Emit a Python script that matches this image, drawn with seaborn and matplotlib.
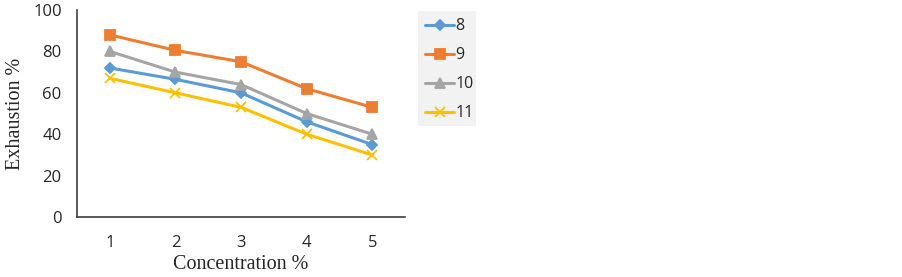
import matplotlib
matplotlib.use("Agg")
import matplotlib.pyplot as plt
import matplotlib.patches as mpatches
import seaborn as sns
import pandas as pd

concentration = [1, 2, 3, 4, 5]
series_names = ["8", "9", "10", "11"]
exhaustion_8 = [72, 66.5, 60, 46, 35]
exhaustion_9 = [88, 80.5, 75, 62, 53]
exhaustion_10 = [80, 70, 64, 50, 40]
exhaustion_11 = [67, 60, 53, 40, 30]

colors = ["#5B9BD5", "#ED7D31", "#A5A5A5", "#FFC000"]
markers = ["D", "s", "^", "x"]
sizes = [5, 7, 7, 7]

sns.set_style("white")

fig = plt.figure(figsize=(9.03, 2.77), dpi=100)
ax = fig.add_axes([77 / 903, 1 - 217 / 277, 328 / 903, 207 / 277])

all_values = [exhaustion_8, exhaustion_9, exhaustion_10, exhaustion_11]
for name, vals, c, m, s in zip(series_names, all_values, colors, markers, sizes):
    df = pd.DataFrame({"Concentration": concentration, "Exhaustion": vals})
    sns.lineplot(data=df, x="Concentration", y="Exhaustion", ax=ax, color=c,
                 marker=m, markersize=s, linewidth=2.2, markeredgecolor=c,
                 markeredgewidth=1.3, label=name)

ax.set_xlim(0.5, 5.5)
ax.set_ylim(0, 100)
ax.set_xticks(concentration)
ax.set_yticks([0, 20, 40, 60, 80, 100])
ax.tick_params(axis="both", length=0, labelsize=12, labelcolor="#262626")
ax.tick_params(axis="x", pad=13)
ax.tick_params(axis="y", pad=11)
for lab in ax.get_xticklabels() + ax.get_yticklabels():
    lab.set_family("Open Sans")

for side in ["top", "right"]:
    ax.spines[side].set_visible(False)
for side in ["left", "bottom"]:
    ax.spines[side].set_color("#404040")
    ax.spines[side].set_linewidth(1.2)

ax.set_xlabel("Concentration %", family="Liberation Serif", fontsize=14.5, labelpad=3)
ax.set_ylabel("Exhaustion %", family="Liberation Serif", fontsize=14.5, labelpad=6)

# legend background box like the Excel legend
fig.patches.append(mpatches.Rectangle((418 / 903, 1 - 126 / 277), 58 / 903, 115 / 277,
                                      transform=fig.transFigure, facecolor="#F2F2F2",
                                      edgecolor="none", zorder=0))

ax.get_legend().remove()
handles, labels = ax.get_legend_handles_labels()
leg = fig.legend(handles, labels, loc="upper left",
                 bbox_to_anchor=(418 / 903, 1 - 11 / 277),
                 frameon=False,
                 prop={"family": "Open Sans", "size": 11.5},
                 labelspacing=0.82, handlelength=1.8, handletextpad=0.08,
                 borderpad=0.45, borderaxespad=0)

fig.savefig("out.png", dpi=100)
